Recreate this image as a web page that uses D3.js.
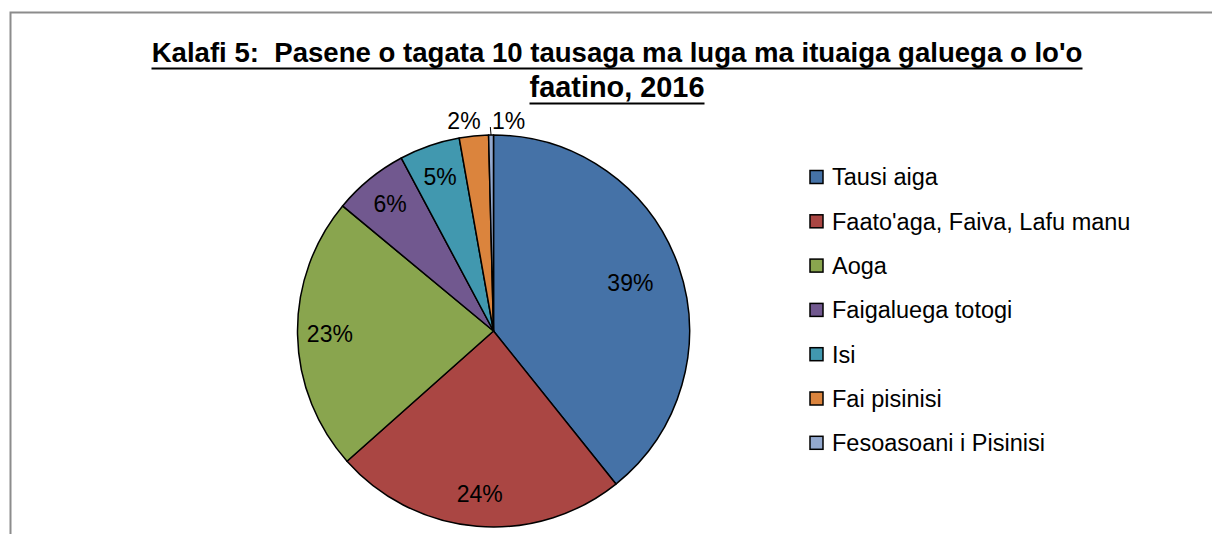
<!DOCTYPE html>
<html>
<head>
<meta charset="utf-8">
<script src="https://cdn.jsdelivr.net/npm/d3@7"></script>
<style>
  body { margin: 0; background: #fff; }
  svg { display: block; font-family: "Liberation Sans", Arial, sans-serif; }
  text { white-space: pre; }
</style>
</head>
<body>
<svg id="chart"></svg>
<script>
var categories = ["Tausi aiga", "Faato'aga, Faiva, Lafu manu", "Aoga", "Faigaluega totogi", "Isi", "Fai pisinisi", "Fesoasoani i Pisinisi"];
var values = [39.3, 24.2, 22.6, 6.2, 5.0, 2.4, 0.4];
var pctLabels = ["39%", "24%", "23%", "6%", "5%", "2%", "1%"];
var colors = ["#4572A7", "#AA4643", "#89A54E", "#71588F", "#4198AF", "#DB843D", "#93A9CF"];
var titleLines = ["Kalafi 5:  Pasene o tagata 10 tausaga ma luga ma ituaiga galuega o lo'o", "faatino, 2016"];

var dim = { width: 1212, height: 534 };
var pieCenter = { x: 493.5, y: 331 };
var radius = 196;

var svg = d3.select("#chart")
    .attr("width", dim.width)
    .attr("height", dim.height);

// chart area border (runs off the right and bottom of the picture)
svg.append("rect")
    .attr("x", 10.5).attr("y", 12.5)
    .attr("width", dim.width).attr("height", dim.height)
    .attr("fill", "none")
    .attr("stroke", "#8c8c8c")
    .attr("stroke-width", 2);

// title, bold + underlined
var titleY = [62, 97];
var titleWidth = [931, 175];
titleLines.forEach(function(t, i) {
    var txt = svg.append("text")
        .attr("x", 617).attr("y", titleY[i])
        .attr("text-anchor", "middle")
        .attr("font-weight", "bold")
        .attr("font-size", 24)
        .attr("fill", "#000")
        .text(t);
    // scale the font so the line has the same width as the reference
    var w = txt.node().getComputedTextLength();
    txt.attr("font-size", 24 * titleWidth[i] / w);
    svg.append("line")
        .attr("x1", 617 - titleWidth[i] / 2).attr("x2", 617 + titleWidth[i] / 2)
        .attr("y1", titleY[i] + 6.5).attr("y2", titleY[i] + 6.5)
        .attr("stroke", "#000").attr("stroke-width", 2);
});

var data = categories.map(function(c, i) {
    return { name: c, value: values[i], label: pctLabels[i], color: colors[i] };
});

var pie = d3.pie().value(d => d.value).sort(null);
var arcs = pie(data);
var arc = d3.arc().innerRadius(0).outerRadius(radius);

var g = svg.append("g")
    .attr("transform", "translate(" + pieCenter.x + "," + pieCenter.y + ")");

g.selectAll("path.slice")
    .data(arcs).enter()
    .append("path")
    .attr("class", "slice")
    .attr("d", arc)
    .attr("fill", d => d.data.color)
    .attr("stroke", "#000")
    .attr("stroke-width", 1.5)
    .attr("stroke-linejoin", "round");

function polar(r, a) {
    return [r * Math.sin(a), -r * Math.cos(a)];
}

// labels inside the bigger slices
var inside = arcs.filter(d => d.data.value >= 4);
g.selectAll("text.inlabel")
    .data(inside).enter()
    .append("text")
    .attr("class", "inlabel")
    .attr("transform", function(d) {
        var mid = (d.startAngle + d.endAngle) / 2;
        var k = (d.endAngle - d.startAngle) > 2 ? 0.74 : 0.835;
        var p = polar(radius * k, mid);
        return "translate(" + p[0] + "," + p[1] + ")";
    })
    .attr("text-anchor", "middle")
    .attr("dy", "0.36em")
    .attr("font-size", 23)
    .attr("fill", "#000")
    .text(d => d.data.label);

// small slices get their labels above the pie
var outside = arcs.filter(d => d.data.value < 4);
outside.forEach(function(d, i) {
    var last = i === outside.length - 1;
    var mid = (d.startAngle + d.endAngle) / 2;
    var tip = polar(radius, mid);
    var lx = polar(radius, d.endAngle)[0] - 8;
    if (last) {
        g.append("line")
            .attr("x1", tip[0]).attr("y1", tip[1])
            .attr("x2", tip[0] - 0.7).attr("y2", tip[1] - 8)
            .attr("stroke", "#000").attr("stroke-width", 1);
        lx = tip[0] + 1;
    }
    g.append("text")
        .attr("x", lx)
        .attr("y", -radius - 6)
        .attr("text-anchor", last ? "start" : "end")
        .attr("font-size", 23)
        .attr("fill", "#000")
        .text(d.data.label);
});

// legend
var legend = svg.append("g").attr("transform", "translate(810,177)");
var rows = legend.selectAll("g")
    .data(data).enter()
    .append("g")
    .attr("transform", (d, i) => "translate(0," + (i * 44.3) + ")");
rows.append("rect")
    .attr("x", 0).attr("y", -6.5)
    .attr("width", 13).attr("height", 13)
    .attr("fill", d => d.color)
    .attr("stroke", "#000").attr("stroke-width", 1.5);
rows.append("text")
    .attr("x", 22).attr("y", 0)
    .attr("dy", "0.36em")
    .attr("font-size", 23.5)
    .attr("fill", "#000")
    .text(d => d.name);
</script>
</body>
</html>
